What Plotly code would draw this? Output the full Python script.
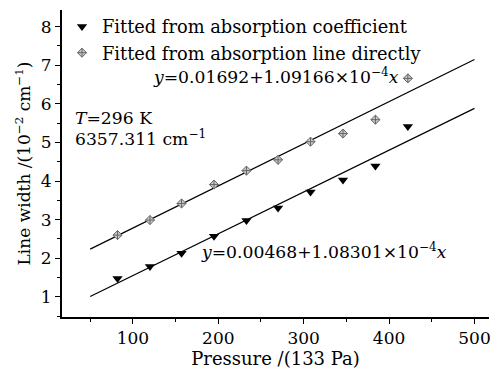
import plotly.graph_objects as go

pressure = [82, 120, 157, 195, 233, 270, 308, 346, 384, 422]
width_coef = [1.48, 1.79, 2.13, 2.57, 2.98, 3.30, 3.72, 4.03, 4.39, 5.41]
width_line = [2.60, 2.99, 3.42, 3.91, 4.27, 4.55, 5.02, 5.23, 5.59, 6.66]
fit_x = [50, 500]
fit_line = [1.692 + 0.0109166 * v for v in fit_x]
fit_coef = [0.468 + 0.0108301 * v for v in fit_x]

FONT = "DejaVu Serif"
FS = 17

fig = go.Figure()
fig.add_trace(go.Scatter(x=fit_x, y=fit_line, mode="lines", line=dict(color="black", width=1.2),
                         showlegend=False, hoverinfo="skip"))
fig.add_trace(go.Scatter(x=fit_x, y=fit_coef, mode="lines", line=dict(color="black", width=1.2),
                         showlegend=False, hoverinfo="skip"))
fig.add_trace(go.Scatter(x=pressure, y=width_coef, mode="markers", name="Fitted from absorption coefficient",
                         marker=dict(symbol="triangle-down", size=9, color="black")))
fig.add_trace(go.Scatter(x=pressure, y=width_line, mode="markers", name="Fitted from absorption line directly",
                         marker=dict(symbol="diamond-cross", size=7, color="#c8c8c8",
                                     line=dict(color="#666666", width=1))))

ann_font = dict(family=FONT, size=17.2, color="black")
fig.add_annotation(x=121, y=6.73, xref="x", yref="y", xanchor="left", yanchor="middle", showarrow=False,
                   text="<i>y</i>=0.01692+1.09166×10<sup>−4</sup><i>x</i>", font=ann_font)
fig.add_annotation(x=177, y=2.19, xref="x", yref="y", xanchor="left", yanchor="middle", showarrow=False,
                   text="<i>y</i>=0.00468+1.08301×10<sup>−4</sup><i>x</i>", font=ann_font)
fig.add_annotation(x=30, y=5.63, xref="x", yref="y", xanchor="left", yanchor="middle", showarrow=False,
                   text="<i>T</i>=296 K", font=ann_font)
fig.add_annotation(x=30, y=5.12, xref="x", yref="y", xanchor="left", yanchor="middle", showarrow=False,
                   text="6357.311 cm<sup>−1</sup>", font=ann_font)

fig.update_layout(
    width=499, height=373,
    margin=dict(l=62, r=9, t=8, b=54),
    paper_bgcolor="white", plot_bgcolor="white",
    font=dict(family=FONT, size=FS, color="black"),
    legend=dict(x=0.0, y=1.005, xanchor="left", yanchor="top", bgcolor="rgba(0,0,0,0)",
                font=dict(family=FONT, size=17.8), itemwidth=30, tracegroupgap=0),
    xaxis=dict(range=[17, 517], showgrid=False, zeroline=False, showline=True, linecolor="black", linewidth=2,
               ticks="outside", ticklen=5, tickwidth=1, tickcolor="black", tickvals=[100, 200, 300, 400, 500],
               minor=dict(tickvals=[50, 150, 250, 350, 450], ticks="outside", ticklen=3, tickcolor="black"),
               title=dict(text="Pressure /(133 Pa)", standoff=4, font=dict(size=18)), tickfont=dict(size=FS)),
    yaxis=dict(range=[0.48, 8.43], showgrid=False, zeroline=False, showline=True, linecolor="black", linewidth=2,
               ticks="outside", ticklen=5, tickwidth=1, tickcolor="black", tickvals=[1, 2, 3, 4, 5, 6, 7, 8],
               minor=dict(dtick=0.5, ticks="outside", ticklen=3, tickcolor="black"),
               title=dict(text="Line width /(10<sup>−2</sup> cm<sup>−1</sup>)", standoff=6, font=dict(size=FS)),
               tickfont=dict(size=FS)),
)
fig.write_html("out.html")
